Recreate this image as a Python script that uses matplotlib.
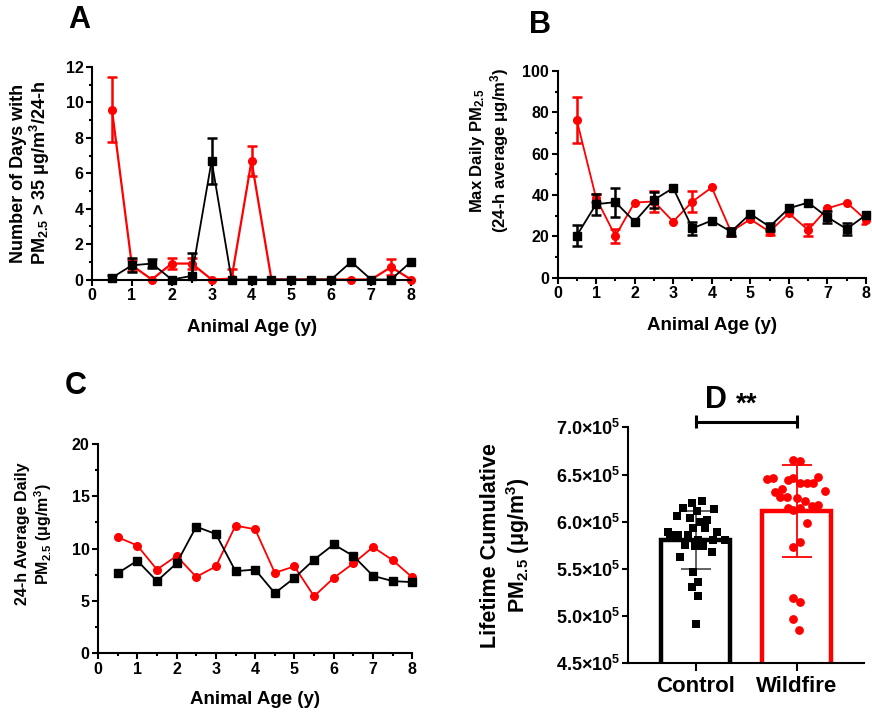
import numpy as np
import matplotlib
matplotlib.use("Agg")
import matplotlib.pyplot as plt
from matplotlib.ticker import MultipleLocator, FixedLocator

plt.rcParams['font.family'] = ['Liberation Sans', 'DejaVu Sans']
plt.rcParams['font.weight'] = 'bold'
plt.rcParams['mathtext.default'] = 'regular'
plt.rcParams['axes.linewidth'] = 1.5

RED = '#ff0000'
BLACK = '#000000'

# ---------------- data ----------------
age = [0.5, 1, 1.5, 2, 2.5, 3, 3.5, 4, 4.5, 5, 5.5, 6, 6.5, 7, 7.5, 8]

# Panel A: number of days > 35 ug/m3
a_wild = [9.6, 0.8, 0.0, 0.9, 0.9, 0.0, 0.05, 6.7, 0.0, 0.0, 0.0, 0.0, 0.0, 0.0, 0.7, 0.0]
a_wild_err = [1.85, 0.3, 0, 0.3, 0.3, 0, 0.55, 0.85, 0, 0, 0, 0, 0, 0, 0.45, 0]
a_ctrl = [0.1, 0.8, 0.9, 0.0, 0.2, 6.7, 0.0, 0.0, 0.0, 0.0, 0.0, 0.0, 1.0, 0.0, 0.0, 1.0]
a_ctrl_err = [0.15, 0.4, 0.25, 0, 1.3, 1.3, 0, 0, 0, 0, 0, 0, 0, 0, 0, 0]

# Panel B: max daily PM2.5
b_wild = [76.2, 38.5, 20.1, 36.3, 36.8, 27.1, 36.8, 43.6, 22.2, 28.2, 22.2, 31.1, 23.0, 33.5, 36.3, 27.9]
b_wild_err = [11.3, 2, 3.5, 0, 5, 0, 5, 0, 2, 0, 1.5, 0, 3, 0, 0, 2]
b_ctrl = [20.3, 35.5, 36.5, 27.1, 37.6, 43.3, 23.8, 27.6, 22.2, 30.8, 24.6, 33.5, 36.3, 29.2, 23.5, 30.3]
b_ctrl_err = [5, 5, 7, 0, 4, 0, 3, 0, 2, 0, 2, 0, 0, 3, 3, 0]

# Panel C: 24-h average daily PM2.5
c_wild = [11.1, 10.3, 8.0, 9.3, 7.3, 8.3, 12.2, 11.85, 7.7, 8.3, 5.45, 7.2, 8.6, 10.15, 8.9, 7.25]
c_ctrl = [7.65, 8.85, 6.9, 8.6, 12.1, 11.4, 7.85, 8.0, 5.75, 7.2, 8.95, 10.4, 9.3, 7.4, 6.9, 6.8]

# Panel D: lifetime cumulative PM2.5 (x 1e5)
groups = ['Control', 'Wildfire']
d_ctrl = [6.22, 6.195, 6.14, 6.135, 6.06, 6.11, 6.04, 6.02, 6.0, 5.895, 5.93, 5.895, 5.93,
          5.86, 5.86, 5.81, 5.81, 5.81, 5.86, 5.75, 5.74, 5.74, 5.68, 5.63, 5.47, 5.365,
          5.31, 5.21, 4.92]
d_wild = [6.654, 6.647, 6.449, 6.46, 6.442, 6.46, 6.407, 6.407, 6.407, 6.47, 6.33, 6.318,
          6.343, 6.266, 6.266, 6.248, 6.223, 6.167, 6.177, 6.142, 6.124, 6.142, 5.983,
          5.789, 5.736, 5.189, 5.146, 4.97, 4.853]
# horizontal scatter of the dots
d_ctrl_jit = [0.056, -0.043, -0.126, 0.182, -0.192, 0.007, -0.06, 0.106, 0.04, -0.275,
              -0.026, 0.205, 0.089, -0.175, -0.076, 0.288, 0.023, 0.172, -0.258, -0.109,
              -0.01, 0.073, 0.156, -0.159, -0.026, 0.023, -0.043, 0.023, 0.0]
d_wild_jit = [-0.033, 0.033, -0.298, -0.232, -0.083, -0.033, 0.033, 0.099, 0.166, 0.215,
              0.281, -0.215, -0.149, -0.099, -0.166, 0.0, 0.083, 0.149, 0.215, -0.083,
              -0.033, 0.033, 0.099, 0.033, -0.033, -0.033, 0.033, -0.033, 0.026]

# ---------------- figure ----------------
W, H = 872, 713
fig = plt.figure(figsize=(W / 100, H / 100), dpi=100)


def ax_px(l, r, t, b):
    return fig.add_axes([l / W, 1 - b / H, (r - l) / W, (b - t) / H])


axA = ax_px(92, 411, 67, 279.5)
axB = ax_px(557.5, 866, 71, 277.5)
axC = ax_px(98, 412.3, 444, 653.3)
axD = ax_px(628.3, 864.3, 427.3, 663.3)

TICK_FS = 11.5


def style_line_axes(ax):
    for s in ('top', 'right'):
        ax.spines[s].set_visible(False)
    ax.tick_params(which='major', direction='out', length=4, width=1.5, pad=2,
                   labelsize=TICK_FS)
    ax.tick_params(which='minor', direction='out', length=2.5, width=1.5)
    ax.set_xlim(0, 8)
    ax.xaxis.set_major_locator(MultipleLocator(1))
    ax.xaxis.set_minor_locator(MultipleLocator(0.5))


def series(ax, x, y, err, color, marker, ms, lw):
    x = np.asarray(x, float)
    y = np.asarray(y, float)
    ax.plot(x, y, '-', color=color, lw=lw, marker=marker, ms=ms, clip_on=False,
            zorder=3 if color == BLACK else 2)
    if err is not None:
        e = np.asarray(err, float)
        m = e > 0
        ax.errorbar(x[m], y[m], yerr=e[m], fmt='none', ecolor=color, elinewidth=1.8,
                    capsize=3.8, capthick=1.8, zorder=3 if color == BLACK else 2)


# ---- Panel A
style_line_axes(axA)
series(axA, age, a_wild, a_wild_err, RED, 'o', 5.5, 1.6)
series(axA, age, a_ctrl, a_ctrl_err, BLACK, 's', 6, 1.3)
axA.set_ylim(0, 12)
axA.yaxis.set_major_locator(MultipleLocator(2))
axA.yaxis.set_minor_locator(MultipleLocator(1))
axA.set_xlabel('Animal Age (y)', fontsize=13.5, fontweight='bold')
axA.xaxis.set_label_coords(0.5, -0.185)
axA.set_ylabel('Number of Days with\nPM$_{2.5}$ > 35 μg/m$^3$/24-h', fontsize=13,
               fontweight='bold', linespacing=1.05)
axA.yaxis.set_label_coords(-0.125, 0.5)

# ---- Panel B
style_line_axes(axB)
series(axB, age, b_wild, b_wild_err, RED, 'o', 5.5, 1.3)
series(axB, age, b_ctrl, b_ctrl_err, BLACK, 's', 6, 1.3)
axB.set_ylim(0, 100)
axB.yaxis.set_major_locator(MultipleLocator(20))
axB.yaxis.set_minor_locator(MultipleLocator(10))
axB.set_xlabel('Animal Age (y)', fontsize=13.5, fontweight='bold')
axB.xaxis.set_label_coords(0.5, -0.19)
axB.set_ylabel('Max Daily PM$_{2.5}$\n(24-h average μg/m$^3$)', fontsize=12,
               fontweight='bold', linespacing=1.1)
axB.yaxis.set_label_coords(-0.15, 0.615)

# ---- Panel C
style_line_axes(axC)
series(axC, age, c_wild, None, RED, 'o', 5.5, 1.3)
series(axC, age, c_ctrl, None, BLACK, 's', 6, 1.3)
axC.set_ylim(0, 20)
axC.yaxis.set_major_locator(MultipleLocator(5))
axC.yaxis.set_minor_locator(MultipleLocator(2.5))
axC.set_xlabel('Animal Age (y)', fontsize=13.5, fontweight='bold')
axC.xaxis.set_label_coords(0.5, -0.18)
axC.set_ylabel('24-h Average Daily\nPM$_{2.5}$ (μg/m$^3$)', fontsize=11.5,
               fontweight='bold', linespacing=1.15)
axC.yaxis.set_label_coords(-0.14, 0.57)

# ---- Panel D
ctrl = np.asarray(d_ctrl) * 1e5
wild = np.asarray(d_wild) * 1e5
data = [ctrl, wild]
means = [d.mean() for d in data]
sds = [d.std(ddof=1) for d in data]
xs = np.arange(len(groups))
colors = [BLACK, RED]
for i in range(len(groups)):
    axD.bar(xs[i], means[i], width=0.685, facecolor='white', edgecolor=colors[i],
            linewidth=3.2, zorder=1)
    axD.errorbar(xs[i], means[i], yerr=sds[i], fmt='none',
                 ecolor='#555555' if i == 0 else RED, elinewidth=1.3,
                 capsize=11, capthick=1.3, zorder=2)
axD.scatter(xs[0] + np.asarray(d_ctrl_jit), ctrl, marker='s', s=38, color=BLACK,
            zorder=3, linewidths=0)
axD.scatter(xs[1] + np.asarray(d_wild_jit), wild, marker='o', s=40, color=RED,
            zorder=3, linewidths=0)
axD.set_xlim(-0.672, 1.671)
axD.set_ylim(4.5e5, 7.0e5)
for s in ('top', 'right'):
    axD.spines[s].set_visible(False)
yt = [4.5e5, 5.0e5, 5.5e5, 6.0e5, 6.5e5, 7.0e5]
axD.yaxis.set_major_locator(FixedLocator(yt))
axD.set_yticklabels([f'{v / 1e5:.1f}×10$^5$' for v in yt])
axD.set_xticks(xs)
axD.set_xticklabels(groups, fontsize=16, fontweight='bold')
axD.tick_params(axis='y', direction='out', length=4, width=1.5, pad=2, labelsize=13)
axD.tick_params(axis='x', direction='out', length=6, width=1.5, pad=3)
axD.set_ylabel('Lifetime Cumulative\nPM$_{2.5}$ (μg/m$^3$)', fontsize=15.5,
               fontweight='bold', linespacing=1.15)
axD.yaxis.set_label_coords(-0.41, 0.5)
# significance bracket
ysig = 7.06e5
axD.errorbar([0, 1], [ysig, ysig], yerr=0.07e5, fmt='-', color=BLACK, lw=2.2,
             capsize=0, elinewidth=2.2, clip_on=False)
axD.text(0.5, ysig + 0.04e5, '**', ha='center', va='bottom', fontsize=20,
         fontweight='bold', clip_on=False)

# panel letters
for lbl, (px, py) in zip('ABCD', [(79, 20), (540, 25), (76, 386), (716, 400)]):
    fig.text(px / W, 1 - py / H, lbl, fontsize=22, fontweight='bold',
             ha='center', va='center')

fig.savefig('out.png', dpi=100)
